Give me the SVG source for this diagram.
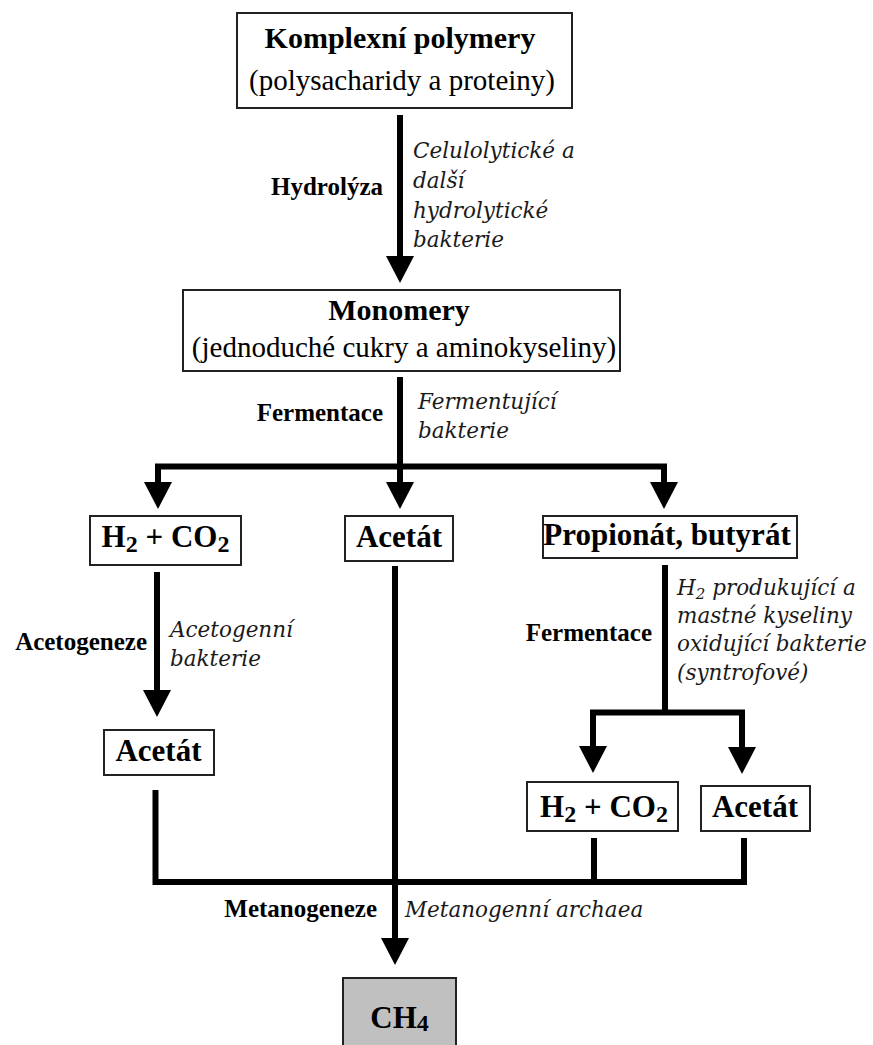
<svg xmlns="http://www.w3.org/2000/svg" width="873" height="1045" viewBox="0 0 873 1045">
<style>
.box{fill:#fff;stroke:#222;stroke-width:2}
.gray{fill:#c0c0c0;stroke:#222;stroke-width:2}
.t{font-family:"Liberation Serif","Times New Roman",serif;fill:#000}
.b30{font-weight:bold;font-size:30px}
.r29{font-size:29px}
.b31{font-weight:bold;font-size:31px}
.lab{font-family:"Liberation Serif","Times New Roman",serif;font-weight:bold;font-size:25px;fill:#000;text-anchor:end}
.it{font-family:"DejaVu Serif",serif;font-style:italic;font-size:21.5px;fill:#1a1a1a}
.c{text-anchor:middle}
.ln{fill:none;stroke:#000;stroke-width:6;stroke-linejoin:miter;stroke-linecap:butt}
</style>
<defs>
<marker id="ah" markerUnits="userSpaceOnUse" markerWidth="28" markerHeight="30" viewBox="0 -14 28 28" refX="0" refY="0" orient="auto" overflow="visible">
<path d="M0,-14 L27,0 L0,14 Z" fill="#000"/>
</marker>
</defs>
<rect width="873" height="1045" fill="#fff"/>

<g id="connectors">
<path class="ln" d="M400,115 V256" marker-end="url(#ah)"/>
<path class="ln" d="M400,377 V482" marker-end="url(#ah)"/>
<path class="ln" d="M158,482 V466.5 H664 V482" marker-end="url(#ah)"/>
<path class="ln" d="M158,470 V482" marker-start="none" marker-end="url(#ah)"/>
<path class="ln" d="M157,572 V690" marker-end="url(#ah)"/>
<path class="ln" d="M395,566 V938" marker-end="url(#ah)"/>
<path class="ln" d="M665,565 V712.5"/>
<path class="ln" d="M593,746 V712.5 H742 V747" marker-end="url(#ah)"/>
<path class="ln" d="M593,735 V746" marker-end="url(#ah)"/>
<path class="ln" d="M155.5,790 V882 H744 V838"/>
<path class="ln" d="M594,838 V882"/>
</g>

<g id="n-komplexni">
<rect class="box" x="237" y="13" width="335" height="95"/>
<text class="t b30 c" x="400" y="48">Komplexní polymery</text>
<text class="t r29 c" x="402" y="90">(polysacharidy a proteiny)</text>
</g>

<g id="l-hydrolyza">
<text class="lab" x="383" y="195">Hydrolýza</text>
<text class="it" x="413" y="158">Celulolytické a</text>
<text class="it" x="413" y="188">další</text>
<text class="it" x="413" y="218">hydrolytické</text>
<text class="it" x="413" y="247">bakterie</text>
</g>

<g id="n-monomery">
<rect class="box" x="183" y="290" width="437" height="81"/>
<text class="t b30 c" x="399" y="320">Monomery</text>
<text class="t r29 c" x="404" y="357">(jednoduché cukry a aminokyseliny)</text>
</g>

<g id="l-fermentace1">
<text class="lab" x="383" y="421">Fermentace</text>
<text class="it" x="418" y="409">Fermentující</text>
<text class="it" x="418" y="438">bakterie</text>
</g>

<g id="n-h2co2-1">
<rect class="box" x="90" y="516" width="151" height="49"/>
<text class="t b31 c" x="165.5" y="547">H<tspan font-size="24" dy="5">2</tspan><tspan dy="-5"> + CO</tspan><tspan font-size="24" dy="5">2</tspan></text>
</g>

<g id="n-acetat-mid">
<rect class="box" x="345" y="516" width="108" height="45"/>
<text class="t b31 c" x="399" y="547">Acetát</text>
</g>

<g id="n-propionat">
<rect class="box" x="543" y="516" width="254" height="42"/>
<text class="t b31 c" x="667" y="545">Propionát, butyrát</text>
</g>

<g id="l-acetogeneze">
<text class="lab" x="147" y="650">Acetogeneze</text>
<text class="it" x="170" y="637">Acetogenní</text>
<text class="it" x="170" y="666">bakterie</text>
</g>

<g id="l-fermentace2">
<text class="lab" x="652" y="641">Fermentace</text>
<text class="it" x="677" y="595">H<tspan font-size="15" dy="4">2</tspan><tspan dy="-4"> produkující a</tspan></text>
<text class="it" x="677" y="623">mastné kyseliny</text>
<text class="it" x="677" y="651">oxidující bakterie</text>
<text class="it" x="677" y="680">(syntrofové)</text>
</g>

<g id="n-acetat-left">
<rect class="box" x="104" y="730" width="110" height="45"/>
<text class="t b31 c" x="158.5" y="761">Acetát</text>
</g>

<g id="n-h2co2-2">
<rect class="box" x="527" y="782" width="151" height="49"/>
<text class="t b31 c" x="604" y="817">H<tspan font-size="24" dy="5">2</tspan><tspan dy="-5"> + CO</tspan><tspan font-size="24" dy="5">2</tspan></text>
</g>

<g id="n-acetat-right">
<rect class="box" x="701" y="786" width="109" height="45"/>
<text class="t b31 c" x="755" y="817">Acetát</text>
</g>

<g id="l-metanogeneze">
<text class="lab" x="377" y="917">Metanogeneze</text>
<text class="it" x="405" y="917" font-size="18.5px">Metanogenní archaea</text>
</g>

<g id="n-ch4">
<rect class="gray" x="343" y="978" width="113" height="80"/>
<text class="t b31 c" x="399.5" y="1028">CH<tspan font-size="24" dy="3">4</tspan></text>
</g>
</svg>
